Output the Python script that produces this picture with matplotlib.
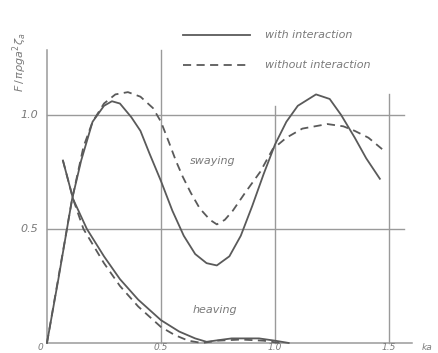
import numpy as np
import matplotlib.pyplot as plt

# swaying force, with / without interaction
sway_x = [0.0, 0.05, 0.11, 0.15, 0.2, 0.25, 0.285, 0.32, 0.37, 0.41, 0.45, 0.5, 0.55,
          0.6, 0.65, 0.7, 0.745, 0.8, 0.85, 0.9, 0.95, 1.0, 1.05, 1.1, 1.18, 1.24,
          1.29, 1.35, 1.4, 1.46]
sway_with = [0.0, 0.28, 0.63, 0.80, 0.97, 1.04, 1.06, 1.05, 0.99, 0.93, 0.83, 0.71, 0.58,
             0.47, 0.39, 0.35, 0.34, 0.38, 0.47, 0.60, 0.74, 0.87, 0.97, 1.04, 1.09, 1.07,
             1.00, 0.90, 0.81, 0.72]

sway_x2 = [0.0, 0.11, 0.16, 0.2, 0.25, 0.3, 0.355, 0.41, 0.465, 0.5, 0.535, 0.565, 0.595,
           0.63, 0.67, 0.715, 0.745, 0.78, 0.815, 0.87, 0.935, 0.99, 1.05, 1.12, 1.23,
           1.3, 1.35, 1.41, 1.47]
sway_without = [0.0, 0.63, 0.86, 0.97, 1.05, 1.09, 1.10, 1.08, 1.03, 0.97, 0.88, 0.80, 0.73,
                0.66, 0.59, 0.54, 0.52, 0.54, 0.58, 0.66, 0.75, 0.85, 0.90, 0.94, 0.96,
                0.95, 0.93, 0.90, 0.85]

# heaving force
heave_x = [0.07, 0.115, 0.175, 0.25, 0.32, 0.4, 0.5, 0.58, 0.65, 0.70, 0.75, 0.81, 0.93, 1.0, 1.06]
heave_with = [0.80, 0.63, 0.50, 0.38, 0.28, 0.19, 0.10, 0.05, 0.02, 0.005, 0.012, 0.02, 0.02, 0.01, 0.0]

heave_x2 = [0.07, 0.115, 0.16, 0.25, 0.32, 0.4, 0.5, 0.56, 0.62, 0.68, 0.75, 0.85, 0.95, 1.02]
heave_without = [0.80, 0.63, 0.50, 0.35, 0.25, 0.16, 0.07, 0.035, 0.01, 0.0, 0.01, 0.015, 0.01, 0.0]

xticks = [0.5, 1.0, 1.5]
yticks = [0.5, 1.0]

line_c = '#5a5a5a'
grid_c = '#9a9a9a'
text_c = '#7a7a7a'

fig = plt.figure(figsize=(4.38, 3.53), dpi=100)
ax = fig.add_axes([0, 0, 1, 1])
ax.set_xlim(-0.206, 1.715)
ax.set_ylim(-0.044, 1.504)
ax.axis('off')

# frame and grid lines
ax.plot([0, 1.6], [0, 0], color=grid_c, lw=1.1)
ax.plot([0, 0], [0, 1.285], color=grid_c, lw=1.1)
for yv in yticks:
    ax.plot([0, 1.565], [yv, yv], color=grid_c, lw=1.0)
for xv, top in zip(xticks, [1.285, 1.04, 1.09]):
    ax.plot([xv, xv], [0, top], color=grid_c, lw=1.0)

# curves
ax.plot(sway_x, sway_with, color=line_c, lw=1.3)
ax.plot(sway_x2, sway_without, color=line_c, lw=1.3, dashes=(4.5, 3))
ax.plot(heave_x, heave_with, color=line_c, lw=1.3)
ax.plot(heave_x2, heave_without, color=line_c, lw=1.3, dashes=(4.5, 3))

# tick labels
tk = dict(color=text_c, fontsize=8, style='italic')
bt = dict(color=text_c, fontsize=6.5, style='italic')
ax.text(-0.03, -0.041, '0', ha='center', va='bottom', **bt)
for xv in xticks:
    ax.text(xv, -0.041, '%.1f' % xv, ha='center', va='bottom', **bt)
ax.text(1.645, -0.041, 'ka', ha='left', va='bottom', **bt)
for yv in yticks:
    ax.text(-0.04, yv, '%.1f' % yv, ha='right', va='center', **tk)

ax.text(-0.12, 1.23, r'$F\,/\,\pi\rho g a^2\zeta_a$', rotation=90, ha='center',
        va='center', color=text_c, fontsize=8)

# legend
ax.plot([0.596, 0.89], [1.352, 1.352], color=line_c, lw=1.3)
ax.plot([0.596, 0.89], [1.22, 1.22], color=line_c, lw=1.3, dashes=(4.5, 3))
ax.text(0.955, 1.352, 'with interaction', ha='left', va='center', **tk)
ax.text(0.955, 1.22, 'without interaction', ha='left', va='center', **tk)

ax.text(0.728, 0.80, 'swaying', ha='center', va='center', **tk)
ax.text(0.737, 0.145, 'heaving', ha='center', va='center', **tk)

plt.savefig('out.png', dpi=100)
